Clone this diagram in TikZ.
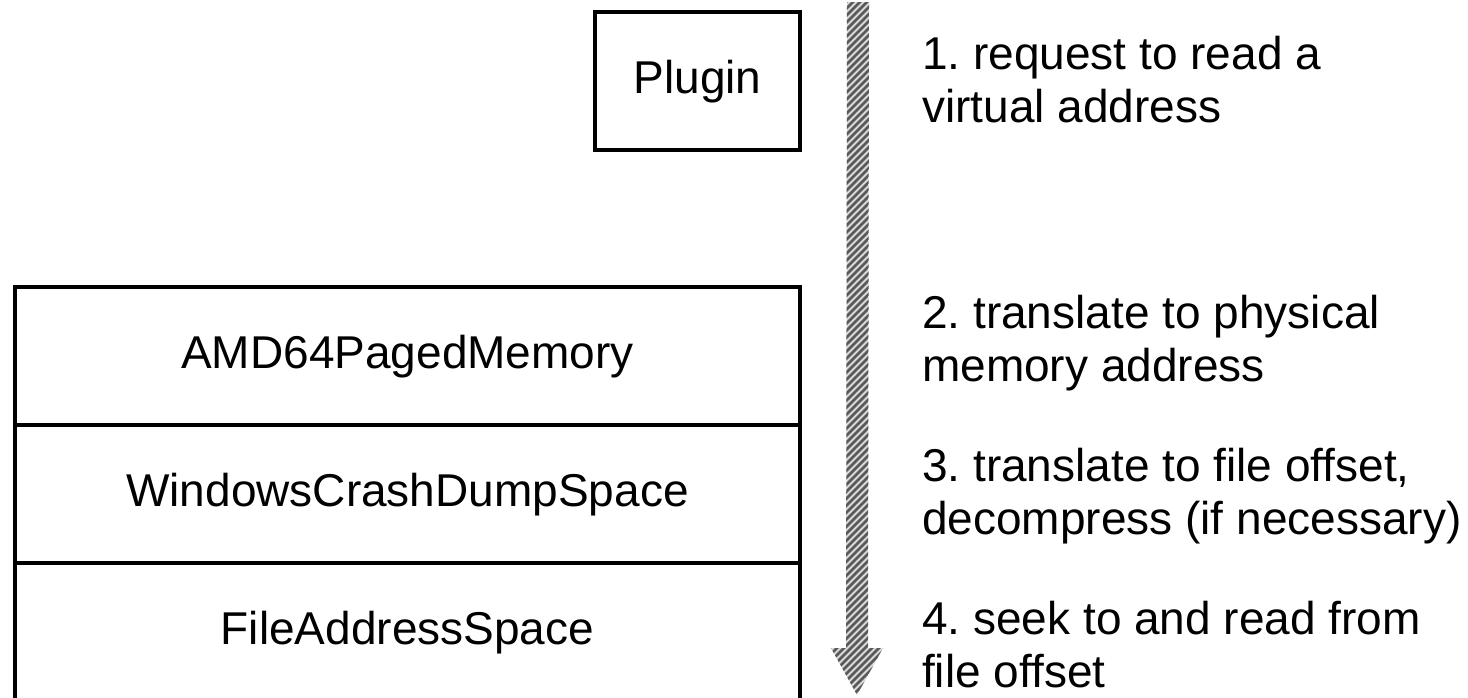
\documentclass[tikz,border=0pt]{standalone}
\usepackage{fontspec}
\setmainfont{Liberation Sans}
\usetikzlibrary{calc}
\frenchspacing
\begin{document}
\begin{tikzpicture}[x=1pt,y=-1pt,
  every node/.style={font=\fontsize{46}{53}\selectfont},
  layerbox/.style={draw, line width=4pt, minimum width=785pt, minimum height=138pt,
    inner sep=0pt, text height=34pt, text depth=10pt},
  stepnote/.style={anchor=north west, align=left, inner sep=0pt},
  hatch/.style={black!65, line width=2.6pt}]
\useasboundingbox (0,0) rectangle (1468,697);

% plugin and the stack of address spaces
\node[layerbox, minimum width=205pt] (plugin) at (697.5,81) {Plugin};
\node[layerbox] (amd)   at (407.5,356) {AMD64PagedMemory};
\node[layerbox] (crash) at (407.5,494) {WindowsCrashDumpSpace};
\node[layerbox] (file)  at (407.5,632) {FileAddressSpace};

% hatched downward flow arrow
\coordinate (flowtop) at (858,2);
\coordinate (flowtip) at (857,695);
\begin{scope}
  \clip ($(flowtop)+(-11,0)$) -- ($(flowtip)+(-11,-47)$) -- ($(flowtip)+(-26,-47)$)
     -- (flowtip) -- ($(flowtip)+(26,-47)$) -- ($(flowtip)+(11,-47)$)
     -- ($(flowtop)+(11,0)$) -- cycle;
  \fill[gray!30] (820,-10) rectangle (900,710);
  \foreach \k in {0,...,115} \draw[hatch] (820,\k*7) -- (900,\k*7-80);
\end{scope}

% step descriptions
\node[stepnote] (s1) at (922,35)  {\rule{0pt}{34pt}1. request to read a\\virtual address};
\node[stepnote] (s2) at (922,294) {\rule{0pt}{34pt}2. translate to physical\\memory address};
\node[stepnote] (s3) at (922,447) {\rule{0pt}{34pt}3. translate to file offset,\\decompress (if necessary)};
\node[stepnote] (s4) at (922,600) {\rule{0pt}{34pt}4. seek to and read from\\file offset};
\end{tikzpicture}
\end{document}
